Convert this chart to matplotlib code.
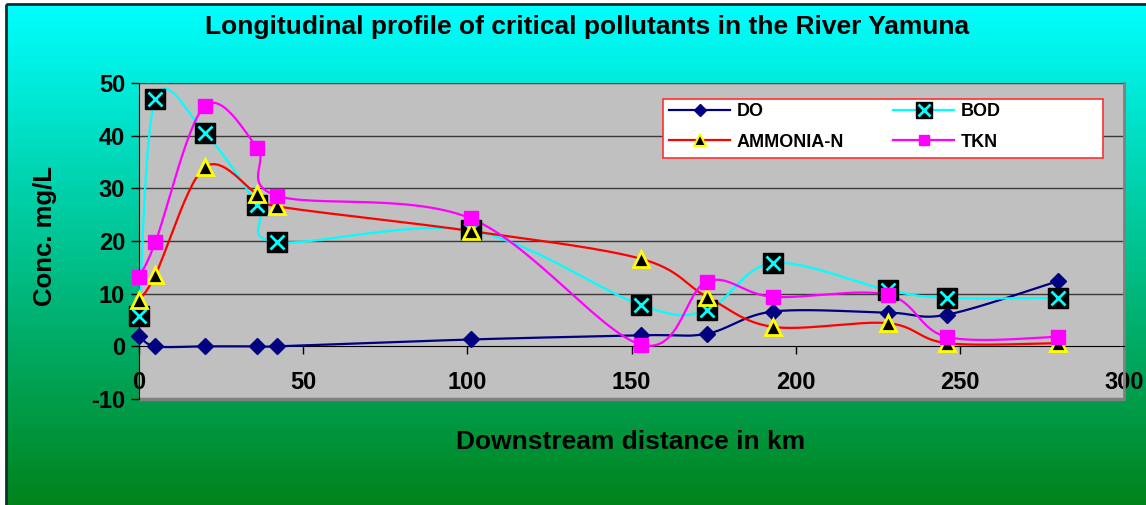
import numpy as np
import matplotlib
matplotlib.use("Agg")
import matplotlib.pyplot as plt
from matplotlib.patches import Rectangle
from matplotlib.lines import Line2D
from matplotlib.legend_handler import HandlerTuple

plt.rcParams['font.family'] = ['Liberation Sans', 'DejaVu Sans']
plt.rcParams['font.weight'] = 'bold'
plt.rcParams['axes.unicode_minus'] = False

# downstream distance (km) and concentrations (mg/L)
distance = [0, 5, 20, 36, 42, 101, 153, 173, 193, 228, 246, 280]
do_vals = [2.0, 0.0, 0.0, 0.0, 0.0, 1.3, 2.1, 2.4, 6.6, 6.4, 6.0, 12.4]
bod_vals = [5.7, 47.0, 40.6, 26.9, 19.8, 22.0, 7.8, 6.9, 15.8, 10.7, 9.2, 9.2]
ammonia_vals = [8.8, 13.6, 34.0, 28.9, 26.6, 21.9, 16.6, 9.4, 3.7, 4.4, 0.6, 0.6]
tkn_vals = [13.2, 19.8, 45.6, 37.7, 28.6, 24.3, 0.3, 12.3, 9.4, 9.8, 1.8, 1.8]

x_ticks = [0, 50, 100, 150, 200, 250, 300]
y_ticks = [-10, 0, 10, 20, 30, 40, 50]


def smooth(xs, ys, sx=3.285, sy=5.27, n=30):
    # bezier smoothing like a spreadsheet "smoothed line", done in pixel space
    p = np.column_stack([np.array(xs) * sx, np.array(ys) * sy])
    out = []
    for i in range(len(p) - 1):
        p0 = p[i - 1] if i > 0 else p[i]
        p1 = p[i]
        p2 = p[i + 1]
        p3 = p[i + 2] if i + 2 < len(p) else p[i + 1]
        c1 = p1 + (p2 - p0) / 6
        c2 = p2 - (p3 - p1) / 6
        t = np.linspace(0, 1, n)[:, None]
        seg = ((1 - t) ** 3) * p1 + 3 * ((1 - t) ** 2) * t * c1 + 3 * (1 - t) * t ** 2 * c2 + t ** 3 * p2
        out.append(seg if i == 0 else seg[1:])
    out = np.vstack(out)
    return out[:, 0] / sx, out[:, 1] / sy


fig = plt.figure(figsize=(11.46, 5.05), dpi=100)
fig.patch.set_facecolor('white')

# gradient background of the chart area
bg = fig.add_axes([0, 0, 1, 1], zorder=-5)
grad = np.linspace(0, 1, 256)[:, None]
top = np.array([0, 1.0, 1.0])
bottom = np.array([0, 0.51, 0.10])
img = top + (bottom - top) * grad[:, :, None]
img = np.repeat(img, 2, axis=1)
bg.imshow(img, aspect='auto', extent=[6, 1150, 510, 4])
bg.set_xlim(0, 1146)
bg.set_ylim(505, 0)
bg.add_patch(Rectangle((6, 4), 1150, 510, fill=False, edgecolor='#103030', lw=2))
bg.axis('off')

ax = fig.add_axes([139 / 1146, 1 - 399 / 505, 985 / 1146, 316 / 505])
ax.set_facecolor('#c0c0c0')
ax.set_xlim(0, 300)
ax.set_ylim(-10, 50)

for yv in y_ticks[2:]:
    ax.axhline(yv, color='#3a3a3a', lw=1, zorder=1)

series = [
    (do_vals, '#000080'),
    (bod_vals, '#00ffff'),
    (ammonia_vals, '#ff0000'),
    (tkn_vals, '#ff00ff'),
]
for vals, col in series:
    sx_, sy_ = smooth(distance, vals)
    ax.plot(sx_, sy_, color=col, lw=1.6, zorder=3, clip_on=False)

ax.plot(distance, do_vals, ls='none', marker='D', ms=8, color='#000080', zorder=4, clip_on=False)
ax.plot(distance, bod_vals, ls='none', marker='s', ms=15, mfc='black', mec='black', zorder=5, clip_on=False)
ax.plot(distance, bod_vals, ls='none', marker='x', ms=10, mew=2, color='#00ffff', zorder=6, clip_on=False)
ax.plot(distance, ammonia_vals, ls='none', marker='^', ms=11, mfc='black', mec='#ffff00', mew=2, zorder=7, clip_on=False)
ax.plot(distance, tkn_vals, ls='none', marker='s', ms=10, color='#ff00ff', zorder=8, clip_on=False)

# axes styling
ax.spines['top'].set_visible(False)
ax.spines['right'].set_color('#808080')
ax.spines['right'].set_linewidth(2)
ax.spines['left'].set_color('black')
ax.spines['bottom'].set_position(('data', 0))
ax.spines['bottom'].set_color('black')
ax.add_patch(Rectangle((0, 0), 1, 0, transform=ax.transAxes, edgecolor='#808080', lw=2.5,
                       fill=False, clip_on=False, zorder=2))

ax.set_xticks(x_ticks)
ax.set_yticks(y_ticks)
ax.tick_params(axis='x', direction='out', length=6, width=1, pad=12, labelsize=17)
ax.tick_params(axis='y', direction='out', length=6, width=1, pad=4, labelsize=17)
for lab in ax.get_xticklabels() + ax.get_yticklabels():
    lab.set_fontweight('bold')

fig.text(587 / 1146, 1 - 27 / 505, 'Longitudinal profile of critical pollutants in the River Yamuna',
         ha='center', va='center', fontsize=19, fontweight='bold')
fig.text(45 / 1146, 1 - 236 / 505, 'Conc. mg/L', rotation=90, ha='center', va='center',
         fontsize=18.5, fontweight='bold')
fig.text(631 / 1146, 1 - 442 / 505, 'Downstream distance in km', ha='center', va='center',
         fontsize=19, fontweight='bold')

# legend: frame drawn as a box, entries placed inside
ax.add_patch(Rectangle(((663 - 139) / 985, (399 - 158) / 316), 440 / 985, 59 / 316,
                       transform=ax.transAxes, facecolor='white', edgecolor='#ff3030',
                       lw=1.2, zorder=19))

h_do = Line2D([], [], color='#000080', lw=1.6, marker='D', ms=6)
h_bod = (Line2D([], [], color='#00ffff', lw=1.6, marker='s', ms=12, mfc='black', mec='black'),
         Line2D([], [], ls='none', marker='x', ms=8, mew=2, color='#00ffff'))
h_am = Line2D([], [], color='#ff0000', lw=1.6, marker='^', ms=8, mfc='black', mec='#ffff00', mew=1.5)
h_tkn = Line2D([], [], color='#ff00ff', lw=1.6, marker='s', ms=7)

leg = ax.legend([h_do, h_am, h_bod, h_tkn], ['DO', 'AMMONIA-N', 'BOD', 'TKN'],
                ncol=2, loc='upper left', bbox_to_anchor=((669 - 139) / 985, (399 - 103) / 316),
                handlelength=3.4, handletextpad=0.35, columnspacing=2.7, numpoints=1,
                frameon=False, borderpad=0, borderaxespad=0, fontsize=13,
                handler_map={tuple: HandlerTuple(ndivide=1)}, labelspacing=0.75)
leg.set_zorder(20)
for t in leg.get_texts():
    t.set_fontweight('bold')

fig.savefig('out.png', dpi=100)
